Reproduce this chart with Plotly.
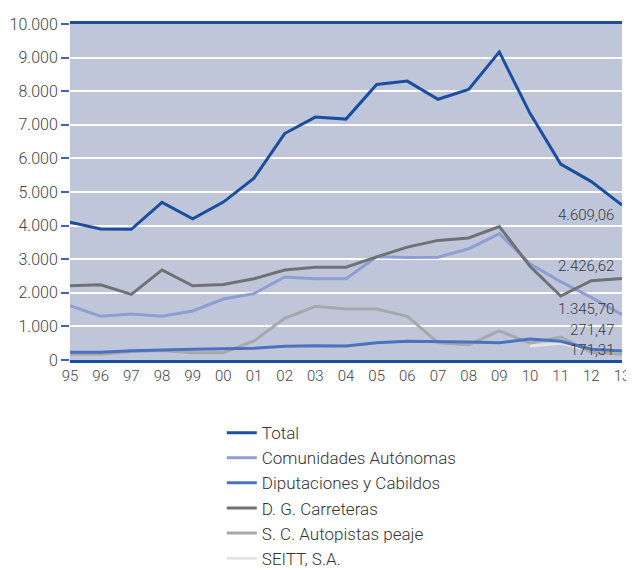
import plotly.graph_objects as go

years = ["95", "96", "97", "98", "99", "00", "01", "02", "03", "04",
         "05", "06", "07", "08", "09", "10", "11", "12", "13"]

total = [4100, 3900, 3890, 4690, 4200, 4700, 5410, 6740, 7230, 7170,
         8200, 8300, 7760, 8050, 9170, 7340, 5830, 5310, 4609.06]
comunidades = [1615, 1300, 1370, 1300, 1460, 1815, 1975, 2470, 2420, 2420,
               3070, 3050, 3060, 3310, 3760, 2860, 2330, 1865, 1345.70]
diputaciones = [230, 230, 275, 305, 318, 335, 350, 407, 427, 417,
                515, 555, 555, 535, 515, 625, 555, 320, 271.47]
carreteras = [2210, 2240, 1955, 2680, 2210, 2250, 2420, 2680, 2760, 2760,
              3070, 3360, 3560, 3630, 3970, 2790, 1905, 2360, 2426.62]
autopistas = [170, 170, 250, 280, 218, 218, 570, 1240, 1600, 1520,
              1520, 1300, 515, 455, 865, 505, 685, 230, 171.31]
seitt = [None] * 15 + [420, 500, 290, 210]

font_fam = "Roboto, Liberation Sans Narrow, sans-serif"


def fmt_es(v):
    s = f"{v:,.2f}"
    return s.replace(",", "X").replace(".", ",").replace("X", ".")


series = [
    # name, values, colour, legend rank, label shift
    ("SEITT, S.A.", seitt, "#e3e4e8", 6, None),
    ("S. C. Autopistas peaje", autopistas, "#a6a8ab", 5, 4),
    ("Diputaciones y Cabildos", diputaciones, "#4a72bf", 3, 21),
    ("Comunidades Autónomas", comunidades, "#8e9ed3", 2, 6),
    ("D. G. Carreteras", carreteras, "#6f7275", 4, 12),
    ("Total", total, "#1c4ea0", 1, -10),
]

fig = go.Figure()
x = list(range(len(years)))

for name, vals, col, rank, shift in series:
    fig.add_trace(go.Scatter(
        x=x, y=vals, name=name, mode="lines",
        line=dict(color=col, width=3),
        legendrank=rank,
        hoverinfo="skip",
    ))
    if shift is not None:
        fig.add_annotation(
            x=1, xref="paper", y=vals[-1], yref="y",
            text=fmt_es(vals[-1]), showarrow=False,
            xanchor="right", yanchor="middle", xshift=-6, yshift=shift,
            font=dict(family=font_fam, size=15, weight=300, color="#3a3a3a"),
        )

# page body adds an 8px offset, so the figure is a little smaller than the window
fig.update_layout(
    width=626, height=562,
    margin=dict(l=62, r=12, t=16, b=210, autoexpand=False),
    paper_bgcolor="white",
    plot_bgcolor="#bfc6d9",
    separators=",.",
    showlegend=True,
    legend=dict(
        x=0.275, y=-0.164, xanchor="left", yanchor="top",
        font=dict(family=font_fam, size=17, weight=300, color="#333333"),
        bgcolor="rgba(0,0,0,0)",
        itemwidth=30,
        tracegroupgap=0,
    ),
    font=dict(family=font_fam, size=16, weight=300, color="#444444"),
)

fig.update_xaxes(
    range=[0, 18],
    tickvals=x, ticktext=years,
    showgrid=False, zeroline=False,
    showline=True, linecolor="#1c4ea0", linewidth=3, mirror=True,
    ticks="", tickfont=dict(size=15, weight=300, color="#444444"),
)
fig.update_yaxes(
    range=[0, 10000], dtick=1000, tickformat=",d",
    showgrid=True, gridcolor="white", gridwidth=1.5,
    zeroline=False, showline=False,
    ticks="outside", ticklen=8, tickwidth=2, tickcolor="#3d66b8",
    tickfont=dict(size=16, weight=300, color="#444444"),
)

fig.write_html("out.html")
